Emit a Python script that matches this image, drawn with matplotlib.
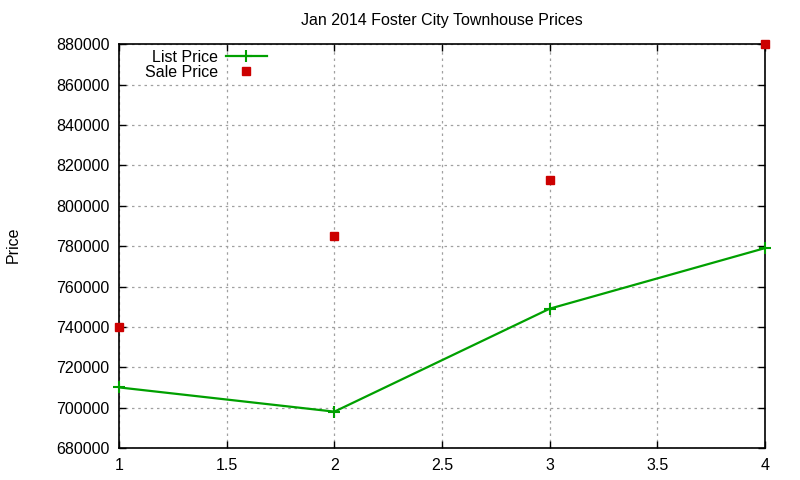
import matplotlib
matplotlib.use("Agg")
import matplotlib.pyplot as plt
from matplotlib.ticker import MultipleLocator

plt.rcParams['font.family'] = ['Liberation Sans', 'DejaVu Sans']

x_vals = [1, 2, 3, 4]
list_price = [710000, 698000, 749000, 779000]
sale_price = [740000, 785000, 813000, 880000]
title = "Jan 2014 Foster City Townhouse Prices"

fig = plt.figure(figsize=(8, 4.8), dpi=100)
ax = fig.add_axes([0.149, 0.0667, 0.807, 0.841])

ax.plot(x_vals, list_price, color='#00a000', lw=1.6, marker='+', ms=8, mew=1.5,
        label='List Price', clip_on=False, zorder=3)
ax.plot(x_vals, sale_price, color='#cc0000', lw=0, marker='s', ms=6,
        label='Sale Price', clip_on=False, zorder=3)

ax.set_xlim(1, 4)
ax.set_ylim(680000, 880000)
ax.xaxis.set_major_locator(MultipleLocator(0.5))
ax.yaxis.set_major_locator(MultipleLocator(20000))
ax.set_xticklabels([f"{v:g}" for v in ax.get_xticks()])
ax.ticklabel_format(axis='y', style='plain', useOffset=False)
ax.tick_params(direction='in', top=True, right=True, length=5, width=1,
               labelsize=11.5, pad=7)
ax.grid(True, color='#a0a0a0', linestyle=(0, (2, 3)), lw=0.9)
for s in ax.spines.values():
    s.set_linewidth(1.2)

ax.set_title(title, fontsize=11.5, pad=14)
fig.text(0.016, 0.49, "Price", rotation=90, fontsize=11.5, va='center', ha='center')

leg = fig.legend(loc='upper right', bbox_to_anchor=(0.334, 0.896), frameon=False,
                 markerfirst=False, fontsize=11.5, handlelength=2.6,
                 handletextpad=0.5, labelspacing=0.0, borderaxespad=0.0,
                 borderpad=0.0)

fig.savefig("out.png", dpi=100)
